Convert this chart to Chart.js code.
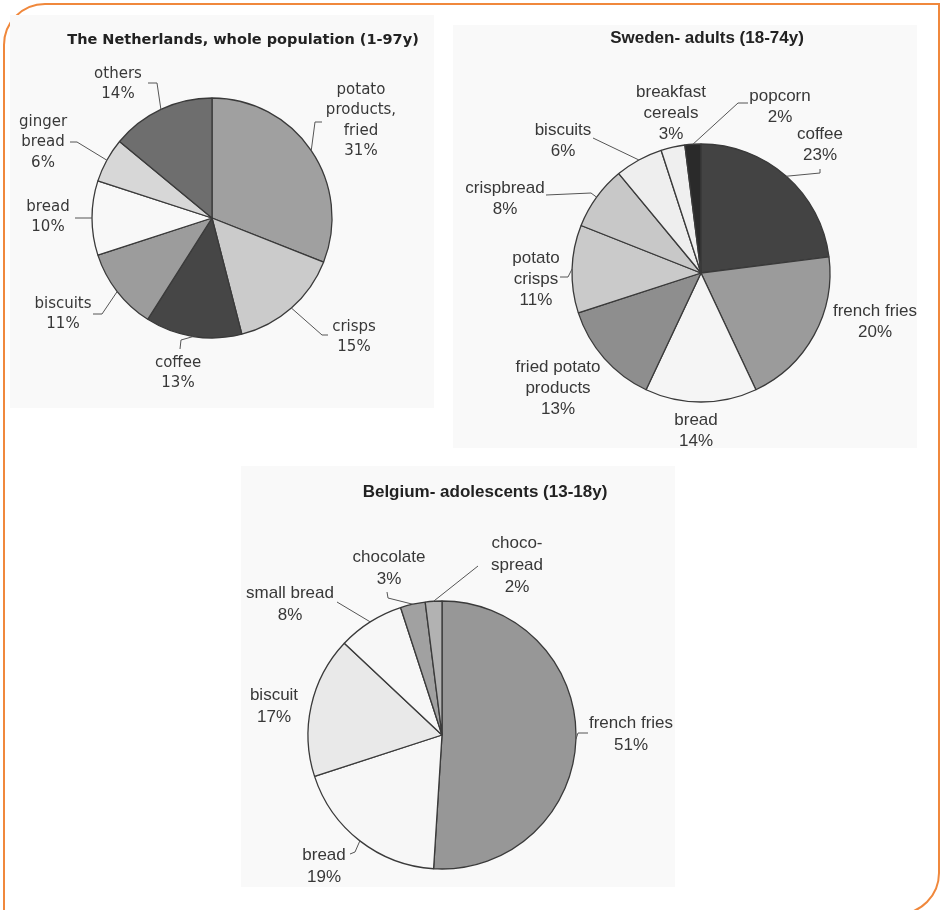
<!DOCTYPE html>
<html>
<head>
<meta charset="utf-8">
<script src="https://cdn.jsdelivr.net/npm/chart.js@4.4.1/dist/chart.umd.min.js"></script>
<style>
  body { margin: 0; background: #fff; width: 942px; height: 910px; position: relative; overflow: hidden; }
  #frame {
    position: absolute; left: 3px; top: 3px; width: 937px; height: 912px;
    box-sizing: border-box; border: 2px solid #f0883c;
    border-radius: 42px 0 42px 0;
  }
  canvas { position: absolute; background: #f9f9f9; }
</style>
</head>
<body>
<div id="frame"></div>
<canvas id="nl"></canvas>
<canvas id="se"></canvas>
<canvas id="be"></canvas>
<script>
// --- data ---
const nlCategories = [['potato', 'products,', 'fried'], 'crisps', 'coffee', 'biscuits', 'bread', ['ginger', 'bread'], 'others'];
const nlValues = [31, 15, 13, 11, 10, 6, 14];

const seCategories = ['coffee', 'french fries', 'bread', ['fried potato', 'products'], ['potato', 'crisps'], 'crispbread', 'biscuits', ['breakfast', 'cereals'], 'popcorn'];
const seValues = [23, 20, 14, 13, 11, 8, 6, 3, 2];

const beCategories = ['french fries', 'bread', 'biscuit', 'small bread', 'chocolate', ['choco-', 'spread']];
const beValues = [51, 19, 17, 8, 3, 2];

// --- styles ---
const nlColors = ['#a0a0a0', '#cbcbcb', '#464646', '#9c9c9c', '#f8f8f8', '#d7d7d7', '#6e6e6e'];
const seColors = ['#434343', '#9b9b9b', '#f5f5f5', '#8e8e8e', '#cacaca', '#c8c8c8', '#eeeeee', '#efefef', '#2a2a2a'];
const beColors = ['#979797', '#f7f7f7', '#e9e9e9', '#f7f7f7', '#a1a1a1', '#b2b2b2'];

// label placement relative to pie centre: [x of text centre, y of first line]
const nlLabelPos = [[149, -128], [142, 109], [-34, 145], [-149, 86], [-164, -11], [-169, -96], [-94, -144]];
const nlLeaders = [[[103, -96], [110, -96]], [[110, 117], [116, 117]], [[-31, 122], [-32, 131]],
  [[-110, 96], [-119, 96]], [[-137, 0]], [[-135, -76], [-142, -76]], [[-55, -135], [-64, -135]]];

const seLabelPos = [[119, -139], [174, 38], [-5, 147], [-143, 94], [-165, -15], [-196, -85], [-138, -143], [-30, -181], [79, -177]];
const seLeaders = [[[119, -100], [119, -104]], [], [], [], [[-133, 4], [-141, 4]],
  [[-110, -80], [-155, -78]], [[-108, -135]], [], [[37, -170], [47, -170]]];

const beLabelPos = [[189, -12], [-118, 120], [-168, -40], [-152, -142], [-53, -178], [75, -192]];
const beLeaders = [[[136, -2], [146, -2]], [[-87, 117], [-92, 119]], [], [[-105, -133]], [[-54, -137], [-55, -143]], [[36, -169]]];

// labels, leaders and title drawn on top of the pie
const sliceLabels = {
  id: 'sliceLabels',
  afterDatasetsDraw(chart, args, opts) {
    const ctx = chart.ctx;
    const arcs = chart.getDatasetMeta(0).data;
    const cx = arcs[0].x, cy = arcs[0].y;
    ctx.save();
    ctx.textAlign = 'center';
    ctx.textBaseline = 'middle';
    ctx.fillStyle = '#222';
    ctx.font = opts.titleFont;
    ctx.fillText(opts.title, opts.titleX, opts.titleY);

    ctx.strokeStyle = '#555';
    ctx.lineWidth = 1;
    arcs.forEach((arc, i) => {
      const p = arc.getProps(['startAngle', 'endAngle', 'outerRadius'], true);
      const mid = (p.startAngle + p.endAngle) / 2;
      const path = opts.leaders[i];
      if (path && path.length) {
        ctx.beginPath();
        ctx.moveTo(cx + Math.cos(mid) * p.outerRadius, cy + Math.sin(mid) * p.outerRadius);
        path.forEach(pt => ctx.lineTo(cx + pt[0], cy + pt[1]));
        ctx.stroke();
      }
    });

    ctx.fillStyle = '#383838';
    ctx.font = opts.labelFont;
    arcs.forEach((arc, i) => {
      const lines = [].concat(chart.data.labels[i], chart.data.datasets[0].data[i] + '%');
      const pos = opts.labelPos[i];
      lines.forEach((t, k) => ctx.fillText(t, cx + pos[0], cy + pos[1] + k * opts.lineHeight));
    });
    ctx.restore();
  }
};

function makePie(id, panel, centre, radius, categories, values, colors, lab) {
  const cv = document.getElementById(id);
  cv.width = panel.w;
  cv.height = panel.h;
  cv.style.left = panel.x + 'px';
  cv.style.top = panel.y + 'px';
  const ccx = centre[0] - panel.x, ccy = centre[1] - panel.y, s = radius + 2;
  return new Chart(cv, {
    type: 'pie',
    data: {
      labels: categories,
      datasets: [{
        data: values,
        backgroundColor: colors,
        borderColor: '#3a3a3a',
        borderWidth: 1.3,
        radius: radius
      }]
    },
    options: {
      responsive: false,
      animation: false,
      events: [],
      layout: { padding: { left: ccx - s, right: panel.w - ccx - s, top: ccy - s, bottom: panel.h - ccy - s } },
      plugins: {
        legend: { display: false },
        tooltip: { enabled: false },
        sliceLabels: {
          title: lab.title,
          titleFont: lab.titleFont,
          titleX: lab.titlePos[0] - panel.x,
          titleY: lab.titlePos[1] - panel.y,
          labelFont: lab.labelFont,
          lineHeight: lab.lineHeight,
          labelPos: lab.labelPos,
          leaders: lab.leaders
        }
      }
    },
    plugins: [sliceLabels]
  });
}

makePie('nl', { x: 10, y: 15, w: 424, h: 393 }, [212, 218], 120, nlCategories, nlValues, nlColors, {
  title: 'The Netherlands, whole population (1-97y)',
  titleFont: 'bold 14.5px "DejaVu Sans"',
  titlePos: [243, 40],
  labelFont: '15px "DejaVu Sans"',
  lineHeight: 20.5,
  labelPos: nlLabelPos,
  leaders: nlLeaders
});

makePie('se', { x: 453, y: 25, w: 464, h: 423 }, [701, 273], 129, seCategories, seValues, seColors, {
  title: 'Sweden- adults (18-74y)',
  titleFont: 'bold 17px "Liberation Sans"',
  titlePos: [707, 38],
  labelFont: '17px "Liberation Sans"',
  lineHeight: 21,
  labelPos: seLabelPos,
  leaders: seLeaders
});

makePie('be', { x: 241, y: 466, w: 434, h: 421 }, [442, 735], 134, beCategories, beValues, beColors, {
  title: 'Belgium- adolescents (13-18y)',
  titleFont: 'bold 17px "Liberation Sans"',
  titlePos: [485, 492],
  labelFont: '17px "Liberation Sans"',
  lineHeight: 22,
  labelPos: beLabelPos,
  leaders: beLeaders
});
</script>
</body>
</html>
